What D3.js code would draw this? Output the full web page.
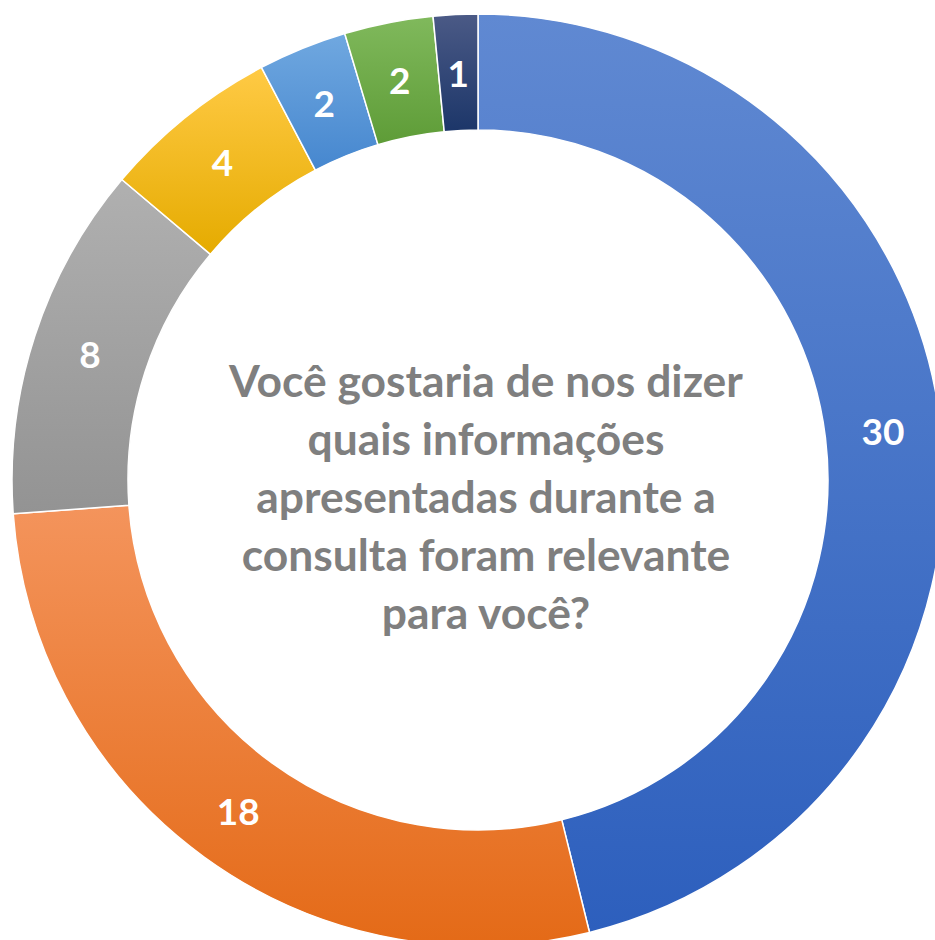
<!DOCTYPE html>
<html>
<head>
<meta charset="utf-8">
<script src="https://cdn.jsdelivr.net/npm/d3@7"></script>
<style>
  html, body { margin: 0; padding: 0; background: #ffffff; }
  svg { display: block; }
</style>
</head>
<body>
<svg id="chart" width="935" height="940"></svg>
<script>
// Data
const categories = ["A", "B", "C", "D", "E", "F", "G"];
const values = [30, 18, 8, 4, 2, 2, 1];
const colorTop = ["#6089D2", "#F4945C", "#B0B0B0", "#FFCA45", "#70A8E0", "#80B95C", "#4B5A86"];
const colorBottom = ["#2D5FBD", "#E46A17", "#939393", "#E5AB00", "#4687CF", "#5E9C37", "#1C3669"];
const titleLines = [
  "Você gostaria de nos dizer",
  "quais informações",
  "apresentadas durante a",
  "consulta foram relevante",
  "para você?"
];

const svg = d3.select("#chart");
const cx = 478, cy = 480;
const outerR = 466, innerR = 350;

const defs = svg.append("defs");
categories.forEach((c, i) => {
  const g = defs.append("linearGradient")
    .attr("id", "grad" + i)
    .attr("x1", 0).attr("y1", 0).attr("x2", 0).attr("y2", 1);
  g.append("stop").attr("offset", "0%").attr("stop-color", colorTop[i]);
  g.append("stop").attr("offset", "100%").attr("stop-color", colorBottom[i]);
});

const pie = d3.pie().sort(null).value(d => d.v);
const data = categories.map((c, i) => ({ c, v: values[i], i }));
const arcs = pie(data);
const arc = d3.arc().innerRadius(innerR).outerRadius(outerR);
const labelArc = d3.arc().innerRadius((innerR + outerR) / 2).outerRadius((innerR + outerR) / 2);

const g = svg.append("g").attr("transform", `translate(${cx},${cy})`);
g.selectAll("path.slice")
  .data(arcs)
  .enter().append("path")
  .attr("class", "slice")
  .attr("d", arc)
  .attr("fill", d => `url(#grad${d.data.i})`)
  .attr("stroke", "#ffffff")
  .attr("stroke-width", 1.5)
  .attr("stroke-linejoin", "round");

g.selectAll("text.lbl")
  .data(arcs)
  .enter().append("text")
  .attr("class", "lbl")
  .attr("transform", d => `translate(${labelArc.centroid(d)})`)
  .attr("text-anchor", "middle")
  .attr("dominant-baseline", "central")
  .attr("font-family", "Lato, 'Open Sans', sans-serif")
  .attr("font-weight", "bold")
  .attr("font-size", 37)
  .attr("fill", "#ffffff")
  .text(d => d.data.v);

// Center title
const title = svg.append("g");
const baseSize = 40;
const t = title.selectAll("text")
  .data(titleLines)
  .enter().append("text")
  .attr("x", 486)
  .attr("y", (d, i) => 397 + i * 58)
  .attr("text-anchor", "middle")
  .attr("font-family", "Lato, 'Open Sans', sans-serif")
  .attr("font-weight", "bold")
  .attr("font-size", baseSize)
  .attr("fill", "#7F7F7F")
  .text(d => d);
const w = t.nodes()[0].getComputedTextLength();
const fs = baseSize * 514 / w;
t.attr("font-size", fs);
</script>
</body>
</html>
